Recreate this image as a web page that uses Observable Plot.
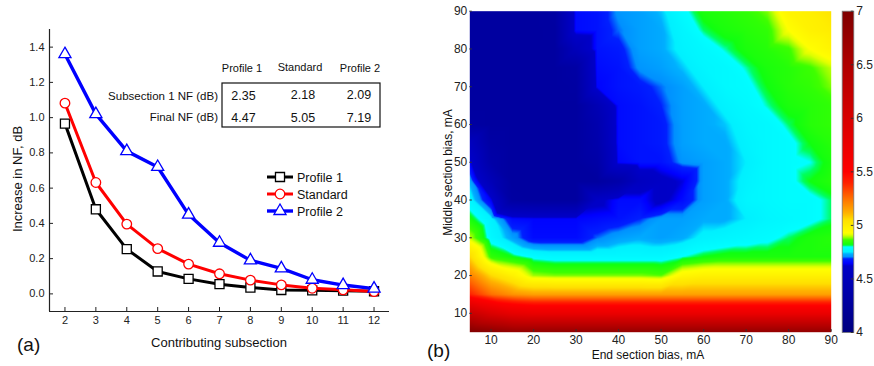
<!DOCTYPE html>
<html><head><meta charset="utf-8">
<script src="https://cdn.jsdelivr.net/npm/d3@7"></script>
<script src="https://cdn.jsdelivr.net/npm/@observablehq/plot@0.6"></script>
<style>
body{margin:0;background:#fff;font-family:"Liberation Sans",Arial,sans-serif;}
#root{position:relative;width:874px;height:366px;overflow:hidden;background:#fff;}
#root > svg, #root > figure{position:absolute;margin:0;}
</style></head><body><div id="root"></div>
<script>
// ---------- Panel (a) data ----------
const subsection = [2, 3, 4, 5, 6, 7, 8, 9, 10, 11, 12];
const profile1 = [0.966, 0.48, 0.254, 0.127, 0.085, 0.055, 0.036, 0.022, 0.02, 0.018, 0.015];
const standard = [1.082, 0.632, 0.396, 0.257, 0.169, 0.114, 0.078, 0.051, 0.032, 0.023, 0.013];
const profile2 = [1.36, 1.02, 0.81, 0.72, 0.45, 0.29, 0.19, 0.145, 0.08, 0.05, 0.03];
const yTicksA = [0, 0.2, 0.4, 0.6, 0.8, 1.0, 1.2, 1.4];
const seriesNames = ["Profile 1", "Standard", "Profile 2"];
const tableRowLabels = ["Subsection 1 NF (dB)", "Final NF (dB)"];
const subsection1NF = ["2.35", "2.18", "2.09"];
const finalNF = ["4.47", "5.05", "7.19"];

// ---------- Panel (b) data ----------
const endBias = [5, 10, 15, 20, 25, 30, 35, 40, 45, 50, 55, 60, 65, 70, 75, 80, 85, 90];
const middleBias = [5, 10, 15, 20, 25, 30, 35, 40, 45, 50, 55, 60, 65, 70, 75, 80, 85, 90];
const row90 = [4.28,4.28,4.28,4.28,4.30,4.66,4.67,4.71,4.72,4.74,4.79,4.83,4.84,4.85,4.88,4.97,4.99,5.03];
const row85 = [4.28,4.28,4.28,4.28,4.29,4.66,4.67,4.70,4.72,4.73,4.77,4.81,4.83,4.84,4.85,4.93,4.98,5.00];
const row80 = [4.28,4.28,4.28,4.28,4.28,4.50,4.67,4.68,4.72,4.73,4.76,4.78,4.805,4.83,4.84,4.86,4.93,4.97];
const row75 = [4.28,4.28,4.28,4.28,4.28,4.32,4.66,4.67,4.71,4.72,4.74,4.77,4.78,4.805,4.83,4.84,4.86,4.90];
const row70 = [4.28,4.28,4.28,4.28,4.28,4.30,4.65,4.67,4.68,4.70,4.72,4.75,4.78,4.79,4.82,4.84,4.85,4.88];
const row65 = [4.28,4.28,4.28,4.28,4.28,4.28,4.45,4.66,4.67,4.69,4.72,4.73,4.76,4.78,4.805,4.83,4.84,4.85];
const row60 = [4.30,4.28,4.28,4.28,4.28,4.28,4.40,4.66,4.67,4.68,4.72,4.73,4.74,4.77,4.78,4.81,4.84,4.85];
const row55 = [4.55,4.32,4.28,4.28,4.28,4.28,4.38,4.66,4.67,4.68,4.72,4.73,4.73,4.76,4.78,4.79,4.82,4.84];
const row50 = [4.64,4.36,4.28,4.28,4.28,4.28,4.34,4.65,4.67,4.67,4.71,4.72,4.73,4.75,4.78,4.79,4.80,4.83];
const row45 = [4.73,4.48,4.28,4.28,4.28,4.28,4.28,4.36,4.55,4.60,4.63,4.72,4.73,4.76,4.78,4.79,4.82,4.84];
const row40 = [4.77,4.64,4.30,4.28,4.28,4.28,4.60,4.66,4.66,4.60,4.66,4.72,4.73,4.77,4.78,4.79,4.79,4.81];
const row35 = [4.83,4.76,4.66,4.65,4.65,4.65,4.66,4.67,4.69,4.72,4.72,4.73,4.73,4.75,4.77,4.78,4.79,4.81];
const row30 = [4.90,4.78,4.72,4.66,4.66,4.66,4.70,4.72,4.73,4.72,4.73,4.76,4.77,4.78,4.79,4.81,4.83,4.84];
const row25 = [5.06,4.85,4.82,4.79,4.78,4.78,4.78,4.78,4.78,4.78,4.80,4.82,4.83,4.83,4.83,4.83,4.83,4.83];
const row20 = [5.22,5.06,4.98,4.89,4.88,4.88,4.88,4.88,4.88,4.87,4.96,4.98,4.98,4.98,4.98,4.98,4.98,4.98];
const row15 = [5.40,5.25,5.18,5.15,5.15,5.15,5.15,5.15,5.15,5.15,5.15,5.15,5.15,5.15,5.15,5.15,5.15,5.15];
const row10 = [6.20,5.95,5.80,5.75,5.75,5.75,5.75,5.75,5.75,5.75,5.75,5.75,5.75,5.75,5.75,5.75,5.75,5.75];
const row5  = [7.00,6.90,6.80,6.80,6.80,6.80,6.80,6.80,6.80,6.80,6.80,6.80,6.80,6.80,6.80,6.80,6.80,6.80];
const heatTicks = [10, 20, 30, 40, 50, 60, 70, 80, 90];
const colorbarTicks = [4, 4.5, 5, 5.5, 6, 6.5, 7];
const cmapStops = [4.0, 4.62, 4.645, 4.69, 4.705, 4.735, 4.75, 4.80, 4.81, 4.82, 4.865, 4.885, 4.91, 4.93, 5.05, 5.12, 5.25, 5.4, 5.5, 6.0, 6.5, 7.0];
const cmapColors = ["#00007f","#0000c8","#0000ff","#0020ff","#0090ff","#00b0ff","#00f0ff","#00ffff","#00ff60","#10ff10","#40ff00","#90ff00","#e0ff00","#ffff00","#ffe000","#ffb000","#ff7000","#ff2000","#ff0000","#d80000","#b00000","#800000"];

const root = document.getElementById("root");
const FONT = '"Liberation Sans", Arial, sans-serif';

// ---------- Panel (a) ----------
const styles = [
  {name: seriesNames[0], values: profile1, color: "#000000", symbol: "square", r: 5.1, w: 3},
  {name: seriesNames[1], values: standard, color: "#ff0000", symbol: "circle", r: 4.8, w: 3},
  {name: seriesNames[2], values: profile2, color: "#0000ff", symbol: "triangle", r: 4.5, w: 3.4}
];
const mLa = 49, mTa = 29, mRa = 51, mBa = 55, Wa = 440, Ha = 366;
const innerWa = Wa - mLa - mRa, innerHa = Ha - mTa - mBa;
const marksA = [];
for (const s of styles) {
  const d = subsection.map((x, i) => ({x, y: s.values[i]}));
  marksA.push(Plot.line(d, {x: "x", y: "y", stroke: s.color, strokeWidth: s.w}));
  marksA.push(Plot.dot(d, {x: "x", y: "y", symbol: s.symbol, r: s.r, stroke: s.color, fill: "white", strokeWidth: 1.3}));
}
const plotA = Plot.plot({
  width: Wa, height: Ha, marginLeft: mLa, marginRight: mRa, marginTop: mTa, marginBottom: mBa,
  style: {fontFamily: FONT, background: "transparent"},
  x: {domain: [1.5, 12.5]},
  y: {domain: [-0.1, 1.5]},
  marks: [
    ...marksA,
    Plot.ruleX([1.5], {stroke: "#222", strokeWidth: 1.2}),
    Plot.ruleY([-0.1], {stroke: "#222", strokeWidth: 1.2}),
    Plot.tickY(yTicksA, {y: d => d, insetRight: innerWa - 4, stroke: "#222"}),
    Plot.tickX(subsection, {x: d => d, insetTop: innerHa - 4, stroke: "#222"}),
    Plot.axisY(yTicksA, {tickSize: 0, tickPadding: 5, fontSize: 11, fill: "#222", tickFormat: d => d.toFixed(1), label: null}),
    Plot.axisX(subsection, {tickSize: 0, tickPadding: 5, fontSize: 11, fill: "#222", label: null})
  ]
});
plotA.style.left = "0px"; plotA.style.top = "0px";
root.appendChild(plotA);

// ---------- Panel (b) heatmap ----------
const nfRows = [row5,row10,row15,row20,row25,row30,row35,row40,row45,row50,row55,row60,row65,row70,row75,row80,row85,row90];
const gridPoints = middleBias.flatMap((m, j) => endBias.map((e, i) => ({x: e, y: m, v: nfRows[j][i]})));
const colorOpts = {type: "linear", domain: cmapStops, range: cmapColors, interpolate: "rgb", clamp: true};
const Wb = 400, Hb = 366, mLb = 29.3, mRb = 9.3, mTb = 10.7, mBb = 34.3;
const innerWb = Wb - mLb - mRb, innerHb = Hb - mTb - mBb;
const plotB = Plot.plot({
  width: Wb, height: Hb, marginLeft: mLb, marginRight: mRb, marginTop: mTb, marginBottom: mBb,
  style: {fontFamily: FONT, background: "transparent"},
  x: {domain: [5, 90]},
  y: {domain: [5, 90]},
  color: colorOpts,
  marks: [
    Plot.raster(gridPoints, {x: "x", y: "y", fill: "v", interpolate: "barycentric"}),
    Plot.tickY(heatTicks, {y: d => d, insetRight: innerWb - 2.5, stroke: "#333"}),
    Plot.tickX(heatTicks, {x: d => d, insetTop: innerHb - 2.5, stroke: "#333"}),
    Plot.axisY(heatTicks, {tickSize: 0, tickPadding: 2.5, fontSize: 12, fill: "#222", label: null}),
    Plot.axisX(heatTicks, {tickSize: 0, tickPadding: 3.5, fontSize: 12, fill: "#222", label: null})
  ]
});
plotB.style.left = "440px"; plotB.style.top = "0px";
root.appendChild(plotB);

// ---------- Colorbar ----------
const plotC = Plot.plot({
  width: 39, height: 366, marginLeft: 6.7, marginRight: 20.7, marginTop: 10.7, marginBottom: 34,
  style: {fontFamily: FONT, background: "transparent"},
  x: {domain: [0, 1], axis: null},
  y: {domain: [4, 7]},
  color: colorOpts,
  marks: [
    Plot.raster({fill: (x, y) => y, x1: 0, x2: 1, y1: 4, y2: 7}),
    Plot.frame({stroke: "#777", strokeWidth: 0.8}),
    Plot.tickY(colorbarTicks, {y: d => d, insetLeft: 11.6 - 2.5, stroke: "#333"}),
    Plot.axisY(colorbarTicks, {anchor: "right", tickSize: 0, tickPadding: 2.4, fontSize: 12, fill: "#222", tickFormat: d => String(d), label: null})
  ]
});
plotC.style.left = "835px"; plotC.style.top = "0px";
root.appendChild(plotC);

// ---------- Overlay: labels, table, legend ----------
const NS = "http://www.w3.org/2000/svg";
const ov = document.createElementNS(NS, "svg");
ov.setAttribute("width", 874); ov.setAttribute("height", 366);
ov.style.left = "0px"; ov.style.top = "0px"; ov.style.fontFamily = FONT;
root.appendChild(ov);
function txt(str, x, y, size, anchor = "start", rot = 0) {
  const t = document.createElementNS(NS, "text");
  t.textContent = str;
  t.setAttribute("font-size", size);
  t.setAttribute("fill", "#111");
  t.setAttribute("text-anchor", anchor);
  if (rot) t.setAttribute("transform", `translate(${x},${y}) rotate(${rot})`);
  else { t.setAttribute("x", x); t.setAttribute("y", y); }
  ov.appendChild(t);
  return t;
}
function el(name, attrs) {
  const e = document.createElementNS(NS, name);
  for (const k in attrs) e.setAttribute(k, attrs[k]);
  ov.appendChild(e);
  return e;
}
// panel (a) labels
txt("(a)", 17, 351, 19);
txt("Contributing subsection", 219, 347, 13, "middle");
txt("Increase in NF, dB", 22, 179, 13, "middle", -90);
// table
txt(seriesNames[0], 242, 72, 11, "middle");
txt(seriesNames[1], 300, 70.7, 11, "middle");
txt(seriesNames[2], 360, 72, 11, "middle");
txt(tableRowLabels[0], 218, 99.5, 11.5, "end");
txt(tableRowLabels[1], 218, 121, 11.5, "end");
el("rect", {x: 222, y: 83, width: 158, height: 44, fill: "none", stroke: "#111", "stroke-width": 1.2});
const colX = [243.5, 303, 359];
const row1Y = [100.3, 98.5, 98.5];
subsection1NF.forEach((v, i) => txt(v, colX[i], row1Y[i], 12.5, "middle"));
finalNF.forEach((v, i) => txt(v, colX[i], 121.5, 12.5, "middle"));
// legend
const legY = [177, 194, 211];
styles.forEach((s, i) => {
  const y = legY[i];
  el("line", {x1: 267, x2: 293, y1: y, y2: y, stroke: s.color, "stroke-width": s.w});
  const sym = {square: d3.symbolSquare, circle: d3.symbolCircle, triangle: d3.symbolTriangle}[s.symbol];
  el("path", {d: d3.symbol(sym, Math.PI * s.r * s.r)(), transform: `translate(280,${y})`, fill: "white", stroke: s.color, "stroke-width": 1.3});
  txt(s.name, 297, y + 4.6, 12.5);
});
// panel (b) labels
txt("(b)", 427, 357, 19);
txt("End section bias, mA", 648, 358.6, 12, "middle");
txt("Middle section bias, mA", 451.5, 172.5, 12, "middle", -90);
</script>
</body></html>
